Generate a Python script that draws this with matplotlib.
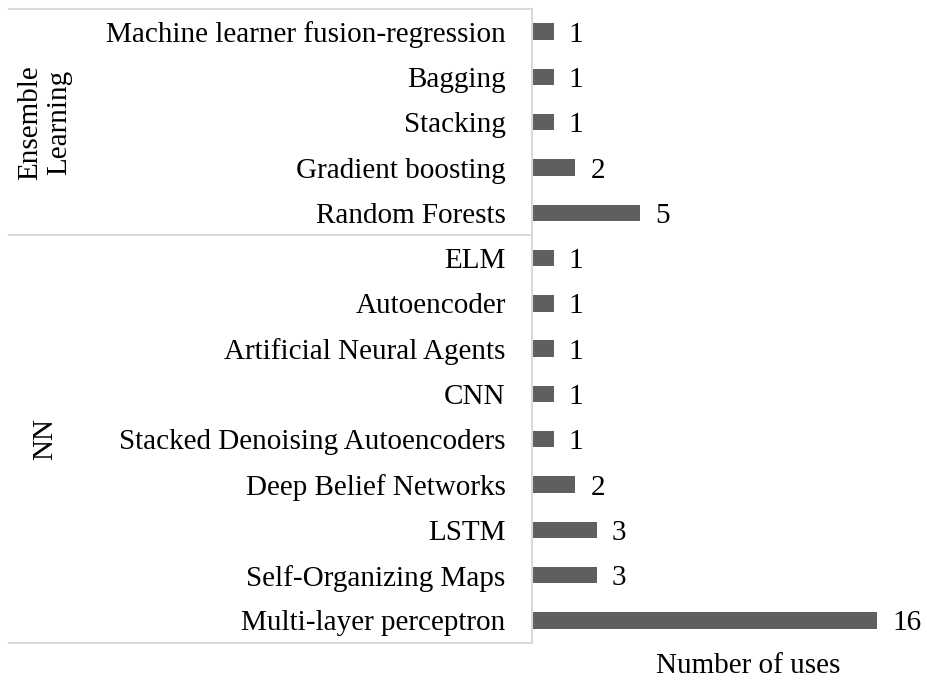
import matplotlib
matplotlib.use("Agg")
import matplotlib.pyplot as plt
from matplotlib.lines import Line2D
import matplotlib.transforms as mtransforms

plt.rcParams['font.family'] = ['Liberation Serif', 'DejaVu Serif']

# Data (top to bottom)
ensemble_methods = ["Machine learner fusion-regression", "Bagging", "Stacking",
                    "Gradient boosting", "Random Forests"]
ensemble_counts = [1, 1, 1, 2, 5]
nn_methods = ["ELM", "Autoencoder", "Artificial Neural Agents", "CNN",
              "Stacked Denoising Autoencoders", "Deep Belief Networks", "LSTM",
              "Self-Organizing Maps", "Multi-layer perceptron"]
nn_counts = [1, 1, 1, 1, 1, 2, 3, 3, 16]
groups = ["Ensemble\nLearning", "NN"]
x_label = "Number of uses"

labels = ensemble_methods + nn_methods
counts = ensemble_counts + nn_counts
n = len(labels)
FS = 21

W, H = 928, 680
fig = plt.figure(figsize=(W / 100, H / 100), dpi=100)
ax_left, ax_right = 532 / W, 1.0
ax_top, ax_bot = 1 - 9 / H, 1 - 643 / H
ax = fig.add_axes([ax_left, ax_bot, ax_right - ax_left, ax_top - ax_bot])

ypos = list(range(n))
ax.barh(ypos, counts, height=0.36, color='#5f5f5f')
ax.set_ylim(n - 0.5, -0.5)
ax.set_xlim(0, 18.37)
ax.set_yticks(ypos)
ax.set_yticklabels(labels, fontsize=FS, va='center_baseline')
ax.tick_params(axis='y', length=0, pad=19)
ax.set_xticks([])
for s in ['top', 'right', 'bottom']:
    ax.spines[s].set_visible(False)
ax.spines['left'].set_color('#d9d9d9')
ax.spines['left'].set_linewidth(1.5)

for y, v in zip(ypos, counts):
    ax.annotate(str(v), xy=(v, y), xytext=(11, 0), textcoords='offset points',
                va='center_baseline', ha='left', fontsize=FS)

fig.text(748 / W, 1 - 673 / H, x_label, fontsize=FS, ha='center', va='baseline')

# group frame lines (x in figure coords, y in data coords)
trans = mtransforms.blended_transform_factory(fig.transFigure, ax.transData)
x0 = 9 / W
for yb in [-0.5, len(ensemble_methods) - 0.5, n - 0.5]:
    fig.add_artist(Line2D([x0, ax_left], [yb, yb], transform=trans,
                          color='#d9d9d9', linewidth=1.5))

# group labels
ne = len(ensemble_methods)
centers = [(ne - 1) / 2, ne + (len(nn_methods) - 1) / 2]
for g, c in zip(groups, centers):
    ax.text(45 / W, c, g, transform=trans, rotation=90, ha='center', va='center',
            fontsize=FS, linespacing=1.15)

fig.savefig("out.png", dpi=100)
